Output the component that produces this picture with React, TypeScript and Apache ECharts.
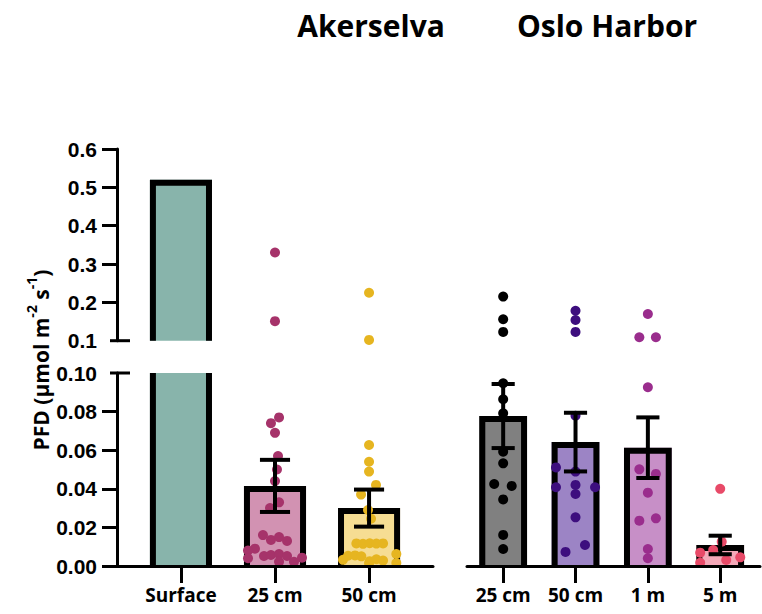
import React, { useEffect, useRef } from "react";
import * as echarts from "echarts";

// ---------- data ----------
const AK_CATEGORIES = ["Surface", "25 cm", "50 cm"];
const OH_CATEGORIES = ["25 cm", "50 cm", "1 m", "5 m"];
const AK_MEAN = [0.52, 0.0415, 0.03];
const AK_SEM = [0, 0.0135, 0.0096];
const OH_MEAN = [0.0777, 0.0642, 0.0613, 0.0109];
const OH_SEM = [0.0166, 0.0152, 0.0157, 0.0048];

const UPPER_TICKS = [0.1, 0.2, 0.3, 0.4, 0.5, 0.6];
const LOWER_TICKS = [0, 0.02, 0.04, 0.06, 0.08, 0.1];
const BREAK_VALUE = 0.1;

const AK25_VALUES = [0.33, 0.151, 0.077, 0.074, 0.069, 0.057, 0.05, 0.044, 0.033, 0.03, 0.016, 0.0135, 0.015, 0.013, 0.009, 0.008, 0.0052, 0.0057, 0.0062, 0.0052, 0.004, 0.0022, 0.0022, 0.0043];
const AK25_JITTER = [0, 0, 0.043, -0.043, 0, 0.032, 0.021, 0, 0.043, -0.053, -0.128, -0.043, 0.043, 0.128, -0.213, -0.287, -0.117, -0.043, 0.043, 0.128, -0.287, 0.043, 0.202, 0.287];
const AK50_VALUES = [0.225, 0.102, 0.0627, 0.054, 0.0489, 0.042, 0.037, 0.029, 0.0245, 0.0117, 0.0115, 0.0118, 0.0116, 0.0117, 0.0053, 0.0055, 0.005, 0.0062, 0.0032, 0.0025, 0.0035, 0.0028, 0.0015, 0.0014];
const AK50_JITTER = [0, 0, 0, 0, 0, 0.074, -0.085, -0.011, 0.021, -0.135, -0.064, 0.007, 0.078, 0.149, -0.223, -0.149, -0.082, 0.29, -0.277, 0.007, 0.078, 0.149, 0.29, 0];
const OH25_VALUES = [0.215, 0.156, 0.123, 0.0947, 0.0864, 0.0791, 0.0592, 0.0532, 0.0425, 0.0415, 0.0345, 0.0161, 0.0088];
const OH25_JITTER = [0, 0, 0, 0, 0, 0, 0, 0, -0.124, 0.118, 0, 0, 0];
const OH50_VALUES = [0.178, 0.154, 0.123, 0.0779, 0.0511, 0.0489, 0.0408, 0.042, 0.0408, 0.0373, 0.0252, 0.0109, 0.0073];
const OH50_JITTER = [0, 0, 0, 0, -0.27, 0, -0.27, 0, 0.27, 0, 0, 0.131, -0.138];
const OH1_VALUES = [0.1697, 0.109, 0.109, 0.0926, 0.0501, 0.0477, 0.038, 0.0235, 0.0247, 0.0088, 0.004];
const OH1_JITTER = [0, -0.118, 0.111, 0, -0.118, 0.111, 0, -0.118, 0.111, 0, 0];
const OH5_VALUES = [0.04, 0.0126, 0.0083, 0.0069, 0.0017, 0.0031, 0.0045];
const OH5_JITTER = [0, 0.021, -0.097, -0.277, -0.277, 0.083, 0.277];

// ---------- styles ----------
const AK_FILL = ["#88b4ab", "#d292b2", "#f6dd93"];
const AK_DOT = ["#000000", "#a6336a", "#e6b520"];
const OH_FILL = ["#808080", "#9c84c5", "#c78fc7", "#f4a8b8"];
const OH_DOT = ["#000000", "#3d0e7e", "#9a2d8d", "#e84a68"];
const BAR_WIDTH = 0.66;
const CAP_WIDTH = 0.32;
const BORDER = 6;
const DOT_SIZE = 10;
const TICK_FONT = "Liberation Sans";
const TEXT_FONT = "Open Sans";

const makeBarRender = (fills: string[], yMin: number, yMax: number) => (params: any, api: any) => {
  const i = params.dataIndex;
  const x = api.value(0) as number;
  const v = api.value(1) as number;
  if (v <= yMin) return null;
  const w = api.size([BAR_WIDTH, 0])[0];
  const pTop = api.coord([x, Math.min(v, yMax)]);
  const pBot = api.coord([x, yMin]);
  const left = pTop[0] - w / 2;
  const right = pTop[0] + w / 2;
  const top = pTop[1];
  const bottom = pBot[1];
  const h = BORDER / 2;
  const stroke = { stroke: "#000", lineWidth: BORDER, fill: null, lineJoin: "miter", lineCap: "butt" };
  const children: any[] = [
    { type: "rect", shape: { x: left, y: top, width: w, height: bottom - top }, style: { fill: fills[i] } },
  ];
  if (v > yMax) {
    children.push({ type: "line", shape: { x1: left + h, y1: top, x2: left + h, y2: bottom }, style: stroke });
    children.push({ type: "line", shape: { x1: right - h, y1: top, x2: right - h, y2: bottom }, style: stroke });
  } else {
    children.push({
      type: "polyline",
      shape: { points: [[left + h, bottom], [left + h, top + h], [right - h, top + h], [right - h, bottom]] },
      style: stroke,
    });
  }
  return { type: "group", children };
};

const errorRender = (params: any, api: any) => {
  const x = api.value(0) as number;
  const m = api.value(1) as number;
  const s = api.value(2) as number;
  if (!s) return null;
  const cw = api.size([CAP_WIDTH, 0])[0];
  const hi = api.coord([x, m + s]);
  const lo = api.coord([x, m - s]);
  const st = { stroke: "#000", lineWidth: 4, lineCap: "butt" };
  return {
    type: "group",
    children: [
      { type: "line", shape: { x1: hi[0], y1: hi[1], x2: lo[0], y2: lo[1] }, style: st },
      { type: "line", shape: { x1: hi[0] - cw / 2, y1: hi[1], x2: hi[0] + cw / 2, y2: hi[1] }, style: st },
      { type: "line", shape: { x1: lo[0] - cw / 2, y1: lo[1], x2: lo[0] + cw / 2, y2: lo[1] }, style: st },
    ],
  };
};

const breakRender = (params: any, api: any) => {
  const cs = params.coordSys;
  const y = api.coord([0, api.value(1)])[1];
  return {
    type: "line",
    shape: { x1: cs.x - 7, y1: y, x2: cs.x + 13, y2: y },
    style: { stroke: "#000", lineWidth: 3 },
  };
};

const pts = (cat: number, values: number[], jitter: number[], upper: boolean) =>
  values
    .map((v, k) => [cat + jitter[k], v])
    .filter((p) => (upper ? p[1] > BREAK_VALUE : p[1] <= BREAK_VALUE));

const scatterSeries = (name: string, cat: number, values: number[], jitter: number[], color: string, group: "ak" | "oh") => {
  const base = group === "ak" ? 0 : 2;
  const common = { name, type: "scatter", symbolSize: DOT_SIZE, itemStyle: { color, opacity: 1 }, z: 3, silent: true };
  return [
    { ...common, xAxisIndex: base, yAxisIndex: base, data: pts(cat, values, jitter, true) },
    { ...common, xAxisIndex: base + 1, yAxisIndex: base + 1, data: pts(cat, values, jitter, false) },
  ];
};

const axisLineStyle = { show: true, onZero: false, lineStyle: { color: "#000", width: 3 } };

const xAxisCommon = (gridIndex: number, min: number, max: number, cats: string[] | null) => {
  if (!cats) return { type: "value", gridIndex, min, max, show: false };
  const idx = cats.map((_, i) => i);
  return {
    type: "value",
    gridIndex,
    min,
    max,
    z: 5,
    axisLine: axisLineStyle,
    splitLine: { show: false },
    axisTick: { show: true, customValues: idx, length: 17, lineStyle: { color: "#000", width: 3 } },
    axisLabel: {
      customValues: idx,
      formatter: (v: number) => cats[Math.round(v)],
      color: "#000",
      fontFamily: TEXT_FONT,
      fontWeight: "bold",
      fontSize: 19,
      margin: 19,
    },
  };
};

const yAxisVisible = (gridIndex: number, min: number, max: number, interval: number, tickVals: number[], digits: number) => ({
  type: "value",
  gridIndex,
  min,
  max,
  interval,
  z: 5,
  axisLine: axisLineStyle,
  splitLine: { show: false },
  axisTick: { show: true, customValues: tickVals, length: 15, lineStyle: { color: "#000", width: 3 } },
  axisLabel: {
    formatter: (v: number) => v.toFixed(digits),
    color: "#000",
    fontFamily: TICK_FONT,
    fontWeight: "bold",
    fontSize: 21,
    margin: 20,
  },
});

const option: any = {
  animation: false,
  backgroundColor: "#ffffff",
  grid: [
    { left: 117, top: 149, width: 316, height: 191.7 },
    { left: 117, top: 373, width: 316, height: 193 },
    { left: 467, top: 149, width: 293, height: 191.7 },
    { left: 467, top: 373, width: 293, height: 193 },
  ],
  xAxis: [
    xAxisCommon(0, -0.68, 2.68, null),
    xAxisCommon(1, -0.68, 2.68, AK_CATEGORIES),
    xAxisCommon(2, -0.5, 3.55, null),
    xAxisCommon(3, -0.5, 3.55, OH_CATEGORIES),
  ],
  yAxis: [
    yAxisVisible(0, UPPER_TICKS[0], UPPER_TICKS[UPPER_TICKS.length - 1], 0.1, UPPER_TICKS.slice(1), 1),
    yAxisVisible(1, LOWER_TICKS[0], LOWER_TICKS[LOWER_TICKS.length - 1], 0.02, LOWER_TICKS.slice(0, -1), 2),
    { type: "value", gridIndex: 2, min: 0.1, max: 0.6, show: false },
    { type: "value", gridIndex: 3, min: 0, max: 0.1, show: false },
  ],
  graphic: [
    {
      type: "text",
      x: 371,
      y: 25,
      style: { text: "Akerselva", fill: "#000", font: `bold 30px "${TEXT_FONT}"`, textAlign: "center", textVerticalAlign: "middle" },
    },
    {
      type: "text",
      x: 607,
      y: 25,
      style: { text: "Oslo Harbor", fill: "#000", font: `bold 30px "${TEXT_FONT}"`, textAlign: "center", textVerticalAlign: "middle" },
    },
    {
      type: "text",
      x: 38,
      y: 360,
      rotation: Math.PI / 2,
      style: {
        text: "{b|PFD (µmol m}{s|-2}{b| s}{s|-1}{b|)}",
        textAlign: "center",
        textVerticalAlign: "middle",
        rich: {
          b: { fontSize: 21, fontWeight: "bold", fontFamily: TEXT_FONT, fill: "#000", lineHeight: 27, verticalAlign: "bottom" },
          s: { fontSize: 14, fontWeight: "bold", fontFamily: TEXT_FONT, fill: "#000", lineHeight: 27, verticalAlign: "top" },
        },
      },
    },
  ],
  series: [
    {
      type: "custom",
      xAxisIndex: 0,
      yAxisIndex: 0,
      data: AK_MEAN.map((m, i) => [i, m]),
      renderItem: makeBarRender(AK_FILL, BREAK_VALUE, 0.6),
      z: 2,
      silent: true,
    },
    {
      type: "custom",
      xAxisIndex: 1,
      yAxisIndex: 1,
      data: AK_MEAN.map((m, i) => [i, m]),
      renderItem: makeBarRender(AK_FILL, 0, BREAK_VALUE),
      z: 2,
      silent: true,
    },
    {
      type: "custom",
      xAxisIndex: 3,
      yAxisIndex: 3,
      data: OH_MEAN.map((m, i) => [i, m]),
      renderItem: makeBarRender(OH_FILL, 0, BREAK_VALUE),
      z: 2,
      silent: true,
    },
    ...scatterSeries("Akerselva 25 cm", 1, AK25_VALUES, AK25_JITTER, AK_DOT[1], "ak"),
    ...scatterSeries("Akerselva 50 cm", 2, AK50_VALUES, AK50_JITTER, AK_DOT[2], "ak"),
    ...scatterSeries("Oslo Harbor 25 cm", 0, OH25_VALUES, OH25_JITTER, OH_DOT[0], "oh"),
    ...scatterSeries("Oslo Harbor 50 cm", 1, OH50_VALUES, OH50_JITTER, OH_DOT[1], "oh"),
    ...scatterSeries("Oslo Harbor 1 m", 2, OH1_VALUES, OH1_JITTER, OH_DOT[2], "oh"),
    ...scatterSeries("Oslo Harbor 5 m", 3, OH5_VALUES, OH5_JITTER, OH_DOT[3], "oh"),
    {
      type: "custom",
      xAxisIndex: 1,
      yAxisIndex: 1,
      data: AK_MEAN.map((m, i) => [i, m, AK_SEM[i]]),
      renderItem: errorRender,
      z: 4,
      silent: true,
    },
    {
      type: "custom",
      xAxisIndex: 3,
      yAxisIndex: 3,
      data: OH_MEAN.map((m, i) => [i, m, OH_SEM[i]]),
      renderItem: errorRender,
      z: 4,
      silent: true,
    },
    {
      type: "custom",
      xAxisIndex: 0,
      yAxisIndex: 0,
      data: [[0, BREAK_VALUE]],
      renderItem: breakRender,
      z: 6,
      clip: false,
      silent: true,
    },
    {
      type: "custom",
      xAxisIndex: 1,
      yAxisIndex: 1,
      data: [[0, BREAK_VALUE]],
      renderItem: breakRender,
      z: 6,
      clip: false,
      silent: true,
    },
  ],
};

export default function App() {
  const ref = useRef<HTMLDivElement>(null);
  useEffect(() => {
    const chart = echarts.init(ref.current!, null, { renderer: "svg" });
    chart.setOption(option);
    return () => chart.dispose();
  }, []);
  return (
    <div
      ref={ref}
      style={{ position: "absolute", left: 0, top: 0, width: 762, height: 614, background: "#fff" }}
    />
  );
}
